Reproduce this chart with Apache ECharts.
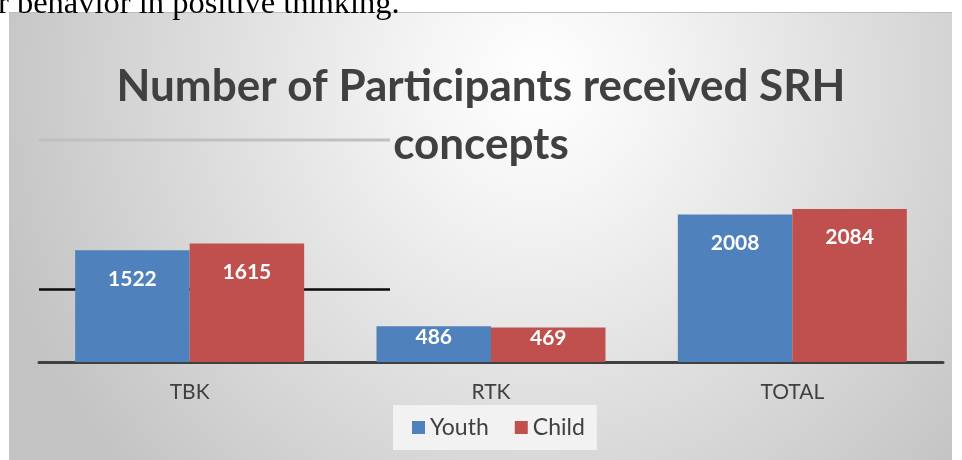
<!DOCTYPE html>
<html>
<head>
<meta charset="utf-8">
<script src="https://cdn.jsdelivr.net/npm/echarts@6/dist/echarts.min.js"></script>
<style>
  html, body { margin: 0; padding: 0; background: #fff; }
  #wrap { position: relative; width: 962px; height: 460px; overflow: hidden; }
  /* chart area background, like the pasted Excel picture */
  #bg {
    position: absolute; left: 9px; top: 12px; width: 942px; height: 448px;
    border-top: 1px solid #bdbdbd; border-left: 1px solid #c6c6c6;
    background: radial-gradient(ellipse 60% 130% at 56% 15%, #ffffff 0%, #f5f5f5 20%, #c3c3c3 100%);
  }
  #chart { position: absolute; left: 0; top: 0; width: 962px; height: 460px; }
</style>
</head>
<body>
<div id="wrap">
  <div id="bg"></div>
  <div id="chart"></div>
</div>
<script>
const categories = ['TBK', 'RTK', 'TOTAL']
const youthValues = [1522, 486, 2008]
const childValues = [1615, 469, 2084]
const seriesNames = ['Youth', 'Child']
const seriesColors = ['#4F81BD', '#C0504D']

const chart = echarts.init(document.getElementById('chart'))

// labels sit lower on the tall bars, close to the top on the short ones
const withLabelDist = (values) => values.map(v => ({
  value: v,
  label: { distance: v < 1000 ? 0 : 18 }
}))

const barSeries = (name, values, color) => ({
  name,
  type: 'bar',
  data: withLabelDist(values),
  barGap: '0%',
  barCategoryGap: '24%',
  itemStyle: { color },
  label: {
    show: true,
    position: 'insideTop',
    color: '#fff',
    fontFamily: 'Lato',
    fontWeight: 'bold',
    fontSize: 21
  }
})

chart.setOption({
  backgroundColor: 'transparent',
  animation: false,
  title: {
    text: 'Number of Participants received SRH\nconcepts',
    left: 'center',
    top: 53,
    textStyle: {
      fontFamily: 'Lato',
      fontWeight: 'bold',
      fontSize: 44,
      lineHeight: 58,
      color: '#404040'
    }
  },
  legend: {
    left: 393,
    top: 405,
    padding: [11, 12, 11, 19],
    backgroundColor: '#f2f2f2',
    itemWidth: 13,
    itemHeight: 13,
    itemGap: 26,
    icon: 'rect',
    textStyle: { fontFamily: 'Lato', fontSize: 23, color: '#404040' },
    data: seriesNames
  },
  grid: { left: 39, right: 19, top: 178.5, bottom: 98, containLabel: false },
  xAxis: {
    type: 'category',
    data: categories,
    axisLine: { lineStyle: { color: '#404040', width: 3 } },
    axisTick: { show: false },
    axisLabel: { fontFamily: 'Lato', fontSize: 21, color: '#404040', margin: 20 }
  },
  yAxis: {
    type: 'value',
    min: 0,
    max: 2500,
    show: false,
    splitLine: { show: false }
  },
  graphic: [
    // cut-off line of body text above the picture
    {
      type: 'text',
      left: -2,
      top: -12,
      z: 10,
      style: {
        text: 'r behavior in positive thinking.',
        font: '32.5px "Liberation Serif"',
        fill: '#000'
      }
    },
    // stray lines lying on the picture
    {
      type: 'line',
      z: 1,
      shape: { x1: 39, y1: 140, x2: 390, y2: 140 },
      style: { stroke: '#c0c0c0', lineWidth: 3 }
    },
    {
      type: 'line',
      z: 0,
      shape: { x1: 39, y1: 289.5, x2: 390, y2: 289.5 },
      style: { stroke: '#0a0a0a', lineWidth: 2.5 }
    }
  ],
  series: [
    barSeries(seriesNames[0], youthValues, seriesColors[0]),
    barSeries(seriesNames[1], childValues, seriesColors[1])
  ]
})
</script>
</body>
</html>
